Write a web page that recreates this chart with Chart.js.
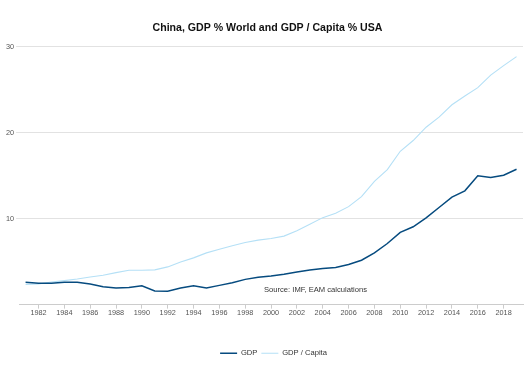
<!DOCTYPE html>
<html>
<head>
<meta charset="utf-8">
<script src="https://cdn.jsdelivr.net/npm/chart.js@4/dist/chart.umd.min.js"></script>
<style>
  html, body { margin: 0; padding: 0; background: #fff; }
  #wrap { width: 529px; height: 377px; }
</style>
</head>
<body>
<div id="wrap"><canvas id="myChart" width="529" height="377"></canvas></div>
<script>
var years = ["1981", "1982", "1983", "1984", "1985", "1986", "1987", "1988", "1989", "1990",
    "1991", "1992", "1993", "1994", "1995", "1996", "1997", "1998", "1999", "2000",
    "2001", "2002", "2003", "2004", "2005", "2006", "2007", "2008", "2009", "2010",
    "2011", "2012", "2013", "2014", "2015", "2016", "2017", "2018", "2019"];

// China GDP as % of world
var gdp = [2.6, 2.48, 2.48, 2.6, 2.6, 2.4, 2.08, 1.93, 2.0, 2.2,
    1.58, 1.55, 1.93, 2.2, 1.93, 2.24, 2.55, 2.94, 3.18, 3.33,
    3.53, 3.8, 4.04, 4.19, 4.31, 4.66, 5.17, 6.02, 7.11, 8.4,
    9.06, 10.1, 11.3, 12.5, 13.24, 14.99, 14.8, 15.05, 15.75];

// China GDP per capita as % of USA
var gdpCapita = [2.36, 2.4, 2.63, 2.79, 2.98, 3.22, 3.41, 3.72, 4.0, 4.0,
    4.04, 4.39, 4.97, 5.44, 6.02, 6.45, 6.84, 7.23, 7.5, 7.7,
    7.97, 8.6, 9.34, 10.12, 10.62, 11.4, 12.57, 14.33, 15.7, 17.84,
    19.09, 20.64, 21.81, 23.25, 24.27, 25.24, 26.7, 27.8, 28.85];

var yTicks = [10, 20, 30];

var FONT = '"Liberation Sans", Arial, sans-serif';

var sourceNote = {
    id: 'sourceNote',
    afterLayout: function (chart) {
        // nudge title and legend a little, like the original
        chart.titleBlock.left += 4;
        chart.titleBlock.right += 4;
        chart.legend.left += 10;
        chart.legend.right += 10;
        chart.legend.top += 2;
        chart.legend.bottom += 2;
    },
    afterDraw: function (chart) {
        var ctx = chart.ctx;
        ctx.save();
        ctx.font = '7.6px ' + FONT;
        ctx.fillStyle = '#333';
        ctx.textBaseline = 'middle';
        ctx.fillText('Source: IMF, EAM calculations', 264, 290);
        ctx.restore();
    }
};

var ctx = document.getElementById("myChart").getContext('2d');
var myChart = new Chart(ctx, {
    type: 'line',
    data: {
        labels: years,
        datasets: [{
            label: 'GDP',
            data: gdp,
            borderColor: '#064b7f',
            backgroundColor: '#064b7f',
            borderWidth: 1.5,
            pointRadius: 0,
            fill: false
        }, {
            label: 'GDP / Capita',
            data: gdpCapita,
            borderColor: '#b5e0f6',
            backgroundColor: '#b5e0f6',
            borderWidth: 1.1,
            pointRadius: 0,
            fill: false
        }]
    },
    options: {
        responsive: false,
        animation: false,
        elements: { line: { tension: 0 } },
        layout: { padding: { left: 4, right: 6, top: 0, bottom: 12 } },
        plugins: {
            title: {
                display: true,
                text: 'China, GDP % World and GDP / Capita % USA',
                color: '#111',
                font: { family: FONT, size: 10.6, weight: 'bold' },
                padding: { top: 22, bottom: 12 }
            },
            legend: {
                position: 'bottom',
                labels: {
                    color: '#333',
                    font: { family: FONT, size: 7.6 },
                    usePointStyle: true,
                    pointStyle: 'line',
                    pointStyleWidth: 17,
                    boxHeight: 6,
                    padding: 4
                }
            },
            tooltip: { enabled: false }
        },
        scales: {
            x: {
                type: 'category',
                offset: true,
                border: { display: true, color: '#cccccc' },
                grid: { drawOnChartArea: false, drawTicks: true, tickLength: 4, color: '#cccccc' },
                ticks: {
                    autoSkip: false,
                    maxRotation: 0,
                    color: '#555',
                    padding: 0,
                    font: { family: FONT, size: 7.3 },
                    callback: function (val, idx) {
                        var y = parseInt(years[idx], 10);
                        return y % 2 === 0 ? years[idx] : null;
                    }
                },
                afterFit: function (scale) {
                    scale.height += 26;
                }
            },
            y: {
                min: 0,
                max: 30,
                border: { display: false },
                grid: { color: '#e2e2e2', tickLength: 3 },
                ticks: {
                    stepSize: 10,
                    color: '#555',
                    padding: 2,
                    font: { family: FONT, size: 7.3 },
                    callback: function (v) {
                        return yTicks.indexOf(v) >= 0 ? String(v) : null;
                    }
                }
            }
        }
    },
    plugins: [sourceNote]
});
</script>
</body>
</html>
